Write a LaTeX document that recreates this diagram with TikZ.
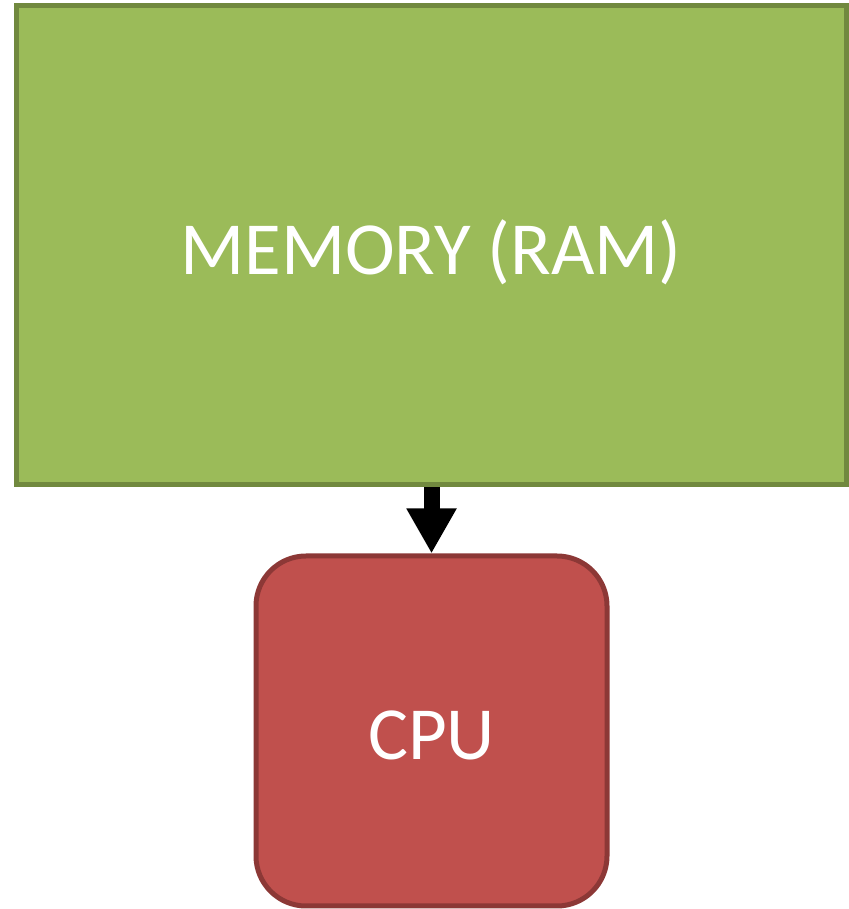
\documentclass[tikz,border=0pt]{standalone}
\usepackage{fontspec}
\setmainfont{Carlito}
\usetikzlibrary{arrows.meta}
\definecolor{memfill}{HTML}{9BBB59}
\definecolor{memline}{HTML}{71893F}
\definecolor{cpufill}{HTML}{C0504D}
\definecolor{cpuline}{HTML}{8C3836}
\tikzset{
  membox/.style={draw=memline, fill=memfill, line width=5pt, minimum width=830pt, minimum height=479pt, inner sep=0pt, text=white, font=\fontsize{75}{90}\selectfont},
  cpubox/.style={draw=cpuline, fill=cpufill, line width=5pt, rounded corners=50pt, minimum width=351pt, minimum height=350pt, inner sep=0pt, text=white, font=\fontsize{75}{90}\selectfont},
  flow/.style={line width=16pt, -{Triangle[width=47pt,length=45pt]}}
}
\begin{document}
\begin{tikzpicture}[x=1pt,y=1pt]
\useasboundingbox (0,0) rectangle (848,909);
\node[membox] (mem) at (431,663.5) {\raisebox{-7pt}[\height][\depth]{MEMORY (RAM)}};
\node[cpubox] (cpu) at (431.5,178) {\raisebox{-4pt}[\height][\depth]{CPU}};
\draw[flow] (mem.south -| cpu.north) -- (cpu.north);
\end{tikzpicture}
\end{document}
